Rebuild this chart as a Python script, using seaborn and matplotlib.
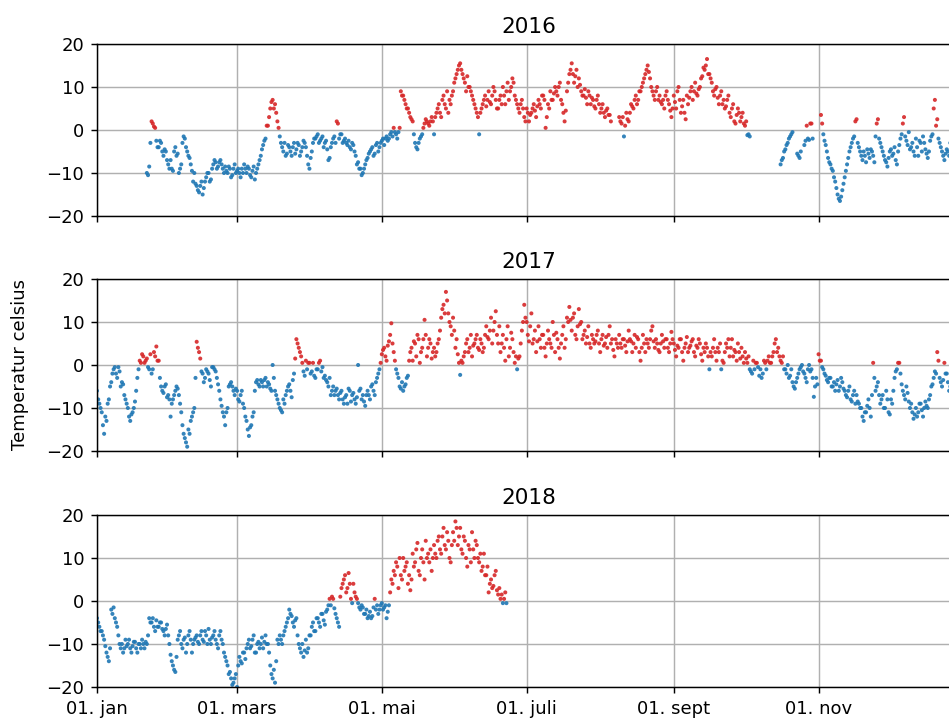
import numpy as np
import pandas as pd
import seaborn as sns
import matplotlib.pyplot as plt

nan = np.nan

# 2016: two stretches of readings (gap at end of Sept / Oct)
# *_am = first reading of the day, *_pm = second reading (half a day later)
t2016_a_start = 21
t2016_a_am = [-10, -8.5, 2.0, 0.8, -2.5, -4, -3, -6, -5, -8,
              -7, -9.5, -4, -5.5, -9, -3, -2, -5, -6.5, -9.5,
              -10, -13, -14.5, -12, -13.5, -11, -10, -11.5, -8, -7.5,
              -8.5, -7, -9, -8.5, -10, -9, -10.5, -8, -9.5, -10,
              -9, -8, -10, -9, -11, -8.5, -10, -8, -6, -3.5,
              -2, 1, 5, 7, 6, 2, -1.5, -4, -3, -5.5,
              -4, -6, -3, -4.5, -3.5, -5, -2.5, -4, -8, -6.5,
              -3, -2, -1, -2.5, -1.5, -3, -4.5, -6.5, -3, -1.5,
              2, -2, -1, -2.5, -3, -2.5, -4.5, -3.5, -6, -7.5,
              -9, -10, -8, -6.5, -5, -4, -5.5, -3, -4, -2.5,
              -3.5, -1.5, -2, -0.5, 0.5, -1, -0.5, 9, 8, 6,
              5, 3, 2, -3, -4.5, -2, -1, 1.5, 2, 1,
              3, -1, 4, 6, 3, 8, 5, 4, 6, 9,
              12, 14, 15.5, 13, 11, 12.5, 10, 8, 6, 4,
              -1, 5, 7, 5.5, 9, 6, 10, 7, 5, 8,
              10, 6, 11, 9, 12, 8, 6, 4, 7, 3,
              5, 2, 4, 6, 3, 7, 5, 8, 0.5, 6,
              9, 7, 10, 8, 11, 6, 2, 9, 13, 15.5,
              11, 14, 12, 9, 8, 7.5, 9, 6, 7, 5,
              8, 4, 6, 3, 5, 3.5, nan, nan, nan, 3,
              1.5, -1.5, 4, 2, 6, 5, 8, 7, 9, 11,
              13, 15, 12, 9, 7, 10, 8, 6, 5, 9,
              6, 3, 8, 5, 10, 4, 7, 2.5, 6, 9,
              7, 11, 8, 10, 12.5, 14, 16.5, 13, 11, 8,
              10, 6, 9, 7, 5.5, 8, 3, 6, 1.5, 5,
              2, 4, 1, -1.2, -1.5]
t2016_a_pm = [-10.5, -3, 1.5, 0.5, -4, -2.5, -5, -4.5, -7, -9,
              -9, -5, -6, -10, -8, -1.5, -4, -6, -8, -12,
              -12.5, -14, -13, -15, -12, -10, -12, -9, -7, -9,
              -7.5, -8, -10, -9.5, -8.5, -11, -9, -10, -9, -11,
              -10, -9, -8.5, -10.5, -9.5, -11.5, -9, -7, -4.5, -2.5,
              1, 3, 6.5, 5, 4, 0.5, -3, -5, -6, -3.5,
              -5, -4, -5.5, -3, -6, -4, -3, -6, -9, -5,
              -2, -1.5, -3, -2, -4, -2.5, -7, -4, -2, -3,
              1.5, -1, -3, -2, -3.5, -4, -3, -5, -8, -9,
              -10.5, -9, -7, -5.5, -4.5, -6, -3.5, -5, -3, -2,
              -2, -2.5, -1, -1.5, -0.5, -2, 0.5, 8, 7, 5,
              4, 2.5, -1, -4, -3, -1.5, 0.5, 2.5, 1.5, 2,
              2, 3, 5, 4, 7, 6, 9, 7, 8, 11,
              13, 15, 14, 12, 9, 10, 9, 7, 5, 3,
              4, 6, 8, 7, 6.5, 8, 9, 5, 7, 6,
              8, 9, 7, 10, 11, 7, 5, 6, 5, 2,
              4, 3.5, 5, 4.5, 5.5, 6, 8, 7, 3, 5,
              7, 8.5, 9, 10, 7, 4, 4.5, 11, 14, 13,
              12.5, 10, 10.5, 8, 9.5, 6, 8, 7.5, 5.5, 7,
              6, 5, 4, 4.5, 3.5, 2, nan, nan, nan, 2,
              3, 1, 2.5, 4, 5.5, 7, 6, 9, 10, 12,
              14, 13.5, 10, 8, 9, 7, 6.5, 7, 8, 7,
              4.5, 5, 6.5, 9, 7, 5.5, 4, 8, 7.5, 10,
              9, 8.5, 9.5, 12, 14.5, 15, 13, 12, 9, 9.5,
              7.5, 8, 6, 5, 7, 4, 5, 2, 3.5, 4,
              3, 1.5, 2, -1, nan]
t2016_b_start = 288
t2016_b_am = [-8, -6.5, -4.5, -3, -1.5, -0.5, nan, -5.5, -6.5, nan,
              -3.5, 1, -2.3, 1.5, nan, nan, nan, 3.5, -1, -3.5,
              -6.5, -8, -9.5, -12, -15, -16.5, -14, -11, -8, -5,
              -3, -1.5, 2.5, -4, -6, -5, -7.5, -5.5, -4.5, -6,
              -1.5, 2.5, -3, -5, -7, -8.5, -5, -6, -4, -8,
              -3.5, -1, 3, -2.5, -0.5, -4, -5, -2, -6, -3,
              -1.5, -4.5, -6.5, -2.5, -1, 7, 2.5, -3, -5, -7,
              -4.5, -6, 2.5, -5, -7, -4, -6, -3]
t2016_b_pm = [-7, -5, -3.5, -2, -1, nan, nan, -6, -5, nan,
              -2.5, -2, 1.5, -2, nan, nan, nan, 1.5, -2.5, -5,
              -7.5, -9, -11, -13.5, -16, -15.5, -12.5, -9.5, -6.5, -4,
              -2, 2, -3, -5, -7, -6, -4.5, -6.5, -5, -7.5,
              1.5, -2, -4, -6, -7.5, -6.5, -4.5, -5.5, -7, -5,
              -2, 1.5, -1.5, -3.5, -4.5, -3, -6, -4, -2.5, -5,
              -3, -5.5, -5, -1.5, 5, 1, -2, -4, -6, -5.5,
              -5, -3, -6, -4, -8, -3, -5, -2]

t2017_start = 0
t2017_am = [-6, -9, -11, -16, -13, -8, -4, -1, -2, -0.5,
            -5, -4.5, -8, -10, -13, -11, -8.5, -3, 1, 2.5,
            0.5, 1.5, -1, -2, 3, 4.3, 1, -5, -6.5, -4.5,
            -7, -12, -8, -6, -5.5, -9, -14, -17, -19, -16,
            -12, -10, 5.4, 3, -1.5, -4, -1, -2, -5, -0.5,
            -1.5, -4.5, -8, -11, -14, -10, -4.5, -5, -7, -6,
            -8.5, -6, -10, -13, -16.5, -14, -11, -4, -4.5, -3.5,
            -5, -3, -4, -5.5, 0, -6, -8, -10, -11, -9,
            -6, -4.5, -7.5, -2, 6, 4, 2, -1.5, 1, 0.5,
            -2, 0.5, -3, -1, 1, -0.5, -2.5, -4, -3, -6,
            -7, -5.5, -8, -6, -9, -7, -5.5, -8.5, -6.5, -9,
            0, -5.5, -7, -9.5, -6, -8, -4.5, -7, -3, -1,
            2.5, 4, 1, 5.5, 9.7, 3, -1, -3, -5.5, -6,
            -4.5, -2.5, 3, 1, 5, 7, 0.5, 4, 10.5, 2,
            6, 1.5, 4, 3, 6, 11, 14, 17, 12, 9,
            11, 4, 2.5, -2.3, 0.5, 3, 6, 4, 2, 5,
            7, 3.5, 5, 4, 9, 6, 11, 8, 12.5, 5,
            3, 7, 1, 9, 4, 6, 0.5, -1, 2, 8,
            14, 10, 5.5, 12, 6, 3, 9, 4, 7, 2,
            8, 5, 10, 3, 6, 1.5, 7, 4, 11, 13.5,
            8, 12, 6, 13, 10, 7, 5, 9, 4, 6,
            5.5, 8, 3, 7, 5, 4, 9, 6, 2, 5,
            7, 4, 6, 3, 8, 5.5, 5, 4, 6, 1,
            7, 3, 5, 6, 9, 4, 5, 3, 7, 4,
            6, 3, 7.7, 5, 2, 4, 6, 1, 5, 3,
            4.5, 6, 2, 4, 5, 1, 3, 4, -1, 2,
            6, 1, 3, -1, 0.5, 5, 6, 4, 2, 3,
            5, 1.5, 2, 3, 0.5, -1, -2, -1, 0.5, -2.5,
            -3, 1, -1, 2, 0.5, 3, 6, 4, 1, 2,
            -1, 0, -2.5, -4, -5.5, -3, -1, 0, -2, -4,
            0, -1, -7.4, -3, 2.5, 1, -1, -2.5, -4, -3,
            -5, -6, -3.5, -5, -4, -6, -7.5, -5, -8.5, -6,
            -7, -9, -10, -13, -11, -8, -12, 0.5, -6, -4,
            -9, -7, -10, -8, -11.5, -9, -3, -1, 0.5, -4.5,
            -7, -5, -8.5, -9, -12.5, -10, -11, -9, -12, -8.5,
            -10, -7, -4.5, -1.5, 3, -3, -5, 0.5, -2, -6,
            -3.5, -5, -2, -4, -6]
t2017_pm = [-8, -10, -14, -12, -9, -5, -2, -0.5, -3, -1.5,
            -4, -7, -9, -12, -11.5, -10, -6, -1, 0.5, 2,
            1, -0.5, 2.5, -1, 2, 1, -3, -6, -5, -7.5,
            -8, -9, -7, -5, -7, -11, -16, -18, -15, -13,
            -11, -3, 4, 1.5, -2, -3, -1.5, -3.5, -0.5, -1,
            -3, -6, -9.5, -12, -11, -5, -4, -6, -5.5, -8,
            -7, -9, -12, -15, -14.5, -12, -6, -3.5, -5, -4,
            -3.5, -5, -4.5, -6, -3, -7, -9, -10.5, -8, -7,
            -5, -6, -3.5, 1.5, 5, 3, 0.5, -2.5, -1, 0.5,
            -1.5, -2.5, -1, 0.5, -1.5, -3, -3.5, -5, -7, -5,
            -6, -7, -6.5, -8, -7.5, -9, -6, -7, -8, -7.5,
            -6, -8, -8.5, -7, -7, -5, -6, -4, -2, 0.5,
            3.5, 2, 4.5, 7, 5, 1, -2, -5, -4, -5,
            -3, 1, 4, 5.5, 2, 6, 3, 6, 7, 4,
            5, 3, 2, 5, 8, 13, 12, 15, 10, 7,
            8, 6, 0.5, 1, 2, 5, 3, 7, 4.5, 6,
            4, 6, 3, 7, 6.5, 8, 5, 10, 7, 9,
            5, 4, 6, 2, 7.5, 3, 2, 1.5, 5, 10,
            11, 7, 9, 5, 8, 5.5, 6, 7, 4, 5,
            6, 4, 7, 7.5, 4, 5, 9, 6, 10, 10.5,
            11, 7, 9, 9.5, 6, 8, 6.5, 5, 7, 5,
            7, 5, 6, 4.5, 6.5, 7, 5, 3.5, 6, 4,
            5, 6, 4.5, 5.5, 6, 3, 7, 6.5, 3, 4,
            5, 6, 4, 8, 5.5, 6, 3.5, 5, 5.5, 6,
            4, 5, 6, 3.5, 4.5, 6, 3, 4, 6.5, 4,
            5.5, 3, 4.5, 6, 2.5, 4, 5, 2, 3, 4,
            3, 4, 5, 1, 3, 4, 2, 6, 3.5, 1,
            3, 4, 0.5, 1.5, 2, -1.5, 1, 0.5, -0.5, -1,
            -2, 0.5, 1, 0.5, 2, 5, 3, 2, 0.5, -1,
            -2, -3, -1, -5, -4, -2, -0.5, -1.5, -3, -1,
            -1.5, -3, -5, -4.5, 1, -0.5, -2, -3.5, -3, -5,
            -4, -4.5, -6, -3, -5.5, -7, -6, -8, -7, -9,
            -8.5, -10, -12, -11, -9.5, -10, -7, -3, -5, -7,
            -8, -10, -6, -11, -8, -6, -1.5, 0.5, -2, -6,
            -8, -6.5, -10, -11, -11.5, -12, -9, -10.5, -10, -9.5,
            -8, -5, -3, -2, 1, -4, -3.5, -2, -4, -5,
            -4, -2.5, -5, -3, -5]

t2018_start = 0
t2018_am = [-4, -6, -7, -9, -12, -14, -2, -1.5, -5, -8,
            -11, -12, -9, -10, -11, -10.5, -9.5, -12, -10, -9,
            -11, -10, -4, -5, -6, -4.5, -6, -5, -7, -6.5,
            -8, -12.5, -15, -16.5, -9, -7, -11, -8.5, -10, -7,
            -12, -9, -8, -10, -7, -9.5, -8, -6.5, -10, -8,
            -9, -11, -7, -10, -13, -15, -16.5, -19.5, -18, -20,
            -13, -14.5, -12, -11, -9, -10.5, -8, -12, -9.5, -10,
            -11, -8, -10, -15, -18, -19, -9, -8, -10, -7,
            -5, -2, -3.5, -6, -4, -10, -12, -13, -9, -11,
            -8, -5, -7, -4, -6, -3, -5.5, -2, 0.5, 1,
            -1.7, -4, -6, 3, 5, 2, 6.5, 0.5, 4, 1,
            -0.5, -2, -1.5, -3, -4, -2.5, -3.5, 0.5, -1, -2,
            -0.5, -1.5, -4, -1, 5, 7, 9, 3, 6, 10,
            8, 4, 2.5, 11, 9, 13.5, 6, 12, 5, 10,
            9, 7, 13, 10, 15, 11, 17, 12, 14, 9,
            16, 18.5, 13, 17, 11, 14, 8, 12, 16, 10,
            13, 9, 7, 11, 6, 2, 5, 3.5, 7, 1.5,
            0.5, -0.5, 2]
t2018_pm = [-5, -7, -8, -10.5, -13, -11, -3, -4, -6, -10,
            -10, -11, -10.5, -9, -12, -9.5, -11, -10, -11, -10,
            -9.5, -8, -5, -4, -7, -6, -5, -6.5, -8, -5.5,
            -10, -14, -16, -13, -8, -10, -9, -12, -8, -9,
            -10, -8.5, -9.5, -8, -9, -7, -10, -9, -8.5, -7,
            -10, -8, -9, -12, -14, -17, -18, -19, -17, -15,
            -14, -12, -13.5, -10, -11, -9, -12, -10, -11, -8.5,
            -9.5, -10, -12, -17, -16, -14, -10, -9, -8, -6,
            -4, -3, -5, -4.5, -8, -11, -10, -11.5, -12, -8,
            -6, -7, -4, -5, -3, -4.5, -2.5, -1, -1, 0.5,
            -3, -5, 1, 4, 6, 3, 4, -0.5, 2, 0.5,
            -1.5, -1, -3, -2, -3.5, -4, -1.5, -2, -3, -1,
            -2, -1, -2.5, 2, 4, 6, 8, 10, 5, 7,
            9, 6, 5, 8, 12, 7, 10, 9, 14, 11,
            12, 10, 11, 14, 12, 15, 13, 16, 10, 13,
            14, 17, 15, 12, 15, 10, 13, 9, 12, 14,
            10, 11, 8, 6, 8, 4, 3, 6, 2.5, 3,
            1.5, 0.5, -0.5]

years = [2016, 2017, 2018]
month_ticks = ['2017-01-01', '2017-03-01', '2017-05-01', '2017-07-01', '2017-09-01', '2017-11-01']
month_labels = ['01. jan', '01. mars', '01. mai', '01. juli', '01. sept', '01. nov']


def segment(year, start, vals, offset=0.0):
    d = pd.DataFrame({'day': start + offset + np.arange(len(vals)), 'temp': vals})
    d['year'] = year
    return d


df = pd.concat([segment(2016, t2016_a_start, t2016_a_am),
                segment(2016, t2016_a_start, t2016_a_pm, 0.5),
                segment(2016, t2016_b_start, t2016_b_am),
                segment(2016, t2016_b_start, t2016_b_pm, 0.5),
                segment(2017, t2017_start, t2017_am),
                segment(2017, t2017_start, t2017_pm, 0.5),
                segment(2018, t2018_start, t2018_am),
                segment(2018, t2018_start, t2018_pm, 0.5)]).dropna()
# all years drawn on one common calendar axis
df['date'] = pd.Timestamp('2017-01-01') + pd.to_timedelta(df['day'], unit='D')
df['side'] = np.where(df['temp'] > 0, 'over', 'under')

fig = plt.figure(figsize=(949 / 130, 718 / 130), dpi=130)
left, width, height = 97 / 949, 864 / 949, 172 / 718
bottoms = [1 - 216 / 718, 1 - 451 / 718, 1 - 687 / 718]

axes = []
for i, year in enumerate(years):
    ax = fig.add_axes([left, bottoms[i], width, height], sharex=axes[0] if axes else None)
    sub = df[df['year'] == year]
    sns.scatterplot(data=sub, x='date', y='temp', hue='side',
                    palette={'over': '#d62728', 'under': '#1f77b4'},
                    s=5, linewidth=0, alpha=0.9, legend=False, ax=ax)
    ax.set_ylim(-20, 20)
    ax.set_yticks([-20, -10, 0, 10, 20])
    ax.set_xlim(pd.Timestamp('2017-01-01'), pd.Timestamp('2017-12-31'))
    ax.set_xticks(pd.to_datetime(month_ticks))
    ax.grid(True, color='#b0b0b0', linewidth=0.8)
    ax.set_axisbelow(True)
    ax.set_title(str(year))
    ax.set_xlabel('')
    ax.set_ylabel('')
    if i < 2:
        ax.tick_params(labelbottom=False)
    else:
        ax.set_xticklabels(month_labels)
    axes.append(ax)

fig.text(20 / 949, 1 - 365 / 718, 'Temperatur celsius', rotation=90,
         ha='center', va='center', fontsize=10)

fig.savefig('out.png', dpi=130)
